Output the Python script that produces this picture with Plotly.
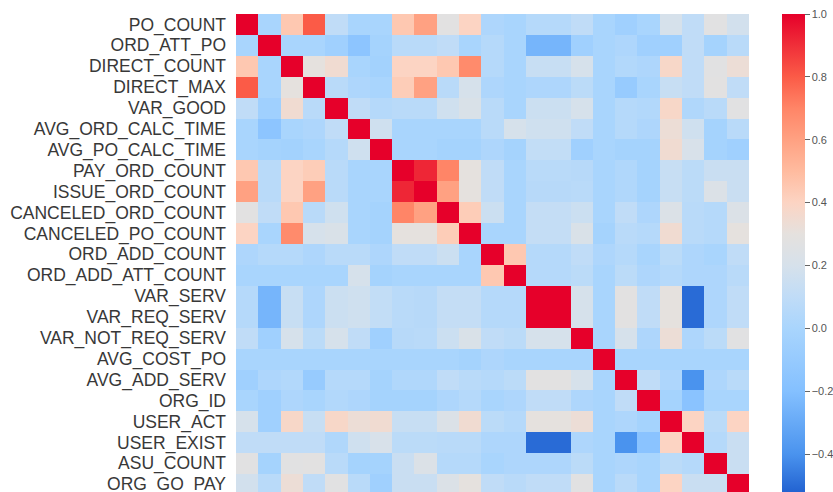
import plotly.graph_objects as go

labels = ["PO_COUNT", "ORD_ATT_PO", "DIRECT_COUNT", "DIRECT_MAX", "VAR_GOOD",
          "AVG_ORD_CALC_TIME", "AVG_PO_CALC_TIME", "PAY_ORD_COUNT", "ISSUE_ORD_COUNT",
          "CANCELED_ORD_COUNT", "CANCELED_PO_COUNT", "ORD_ADD_COUNT", "ORD_ADD_ATT_COUNT",
          "VAR_SERV", "VAR_REQ_SERV", "VAR_NOT_REQ_SERV", "AVG_COST_PO", "AVG_ADD_SERV",
          "ORG_ID", "USER_ACT", "USER_EXIST", "ASU_COUNT", "ORG_GO_PAY"]

corr = [
    # 0     1     2     3     4     5     6     7     8     9    10    11    12    13    14    15    16    17    18    19    20    21    22
    [1.00, 0.00, 0.45, 0.80, 0.10, 0.00, 0.00, 0.45, 0.60, 0.28, 0.40, 0.02, 0.00, 0.05, 0.05, 0.10, 0.00, -0.05, 0.00, 0.20, 0.10, 0.27, 0.18],
    [0.00, 1.00, 0.00, 0.00, -0.05, -0.15, -0.02, 0.07, 0.07, 0.10, 0.00, 0.05, 0.00, -0.25, -0.25, -0.05, 0.00, 0.02, -0.05, -0.05, 0.10, -0.02, 0.07],
    [0.45, 0.00, 1.00, 0.30, 0.35, 0.00, -0.03, 0.40, 0.40, 0.45, 0.68, 0.05, 0.00, 0.13, 0.13, 0.20, 0.00, 0.04, 0.02, 0.38, 0.10, 0.27, 0.33],
    [0.80, 0.00, 0.30, 1.00, 0.07, 0.02, 0.00, 0.43, 0.60, 0.07, 0.20, 0.02, 0.00, 0.02, 0.02, 0.08, 0.00, -0.10, 0.00, 0.13, 0.10, 0.28, 0.10],
    [0.10, -0.05, 0.35, 0.07, 1.00, 0.10, 0.05, 0.07, 0.07, 0.17, 0.22, 0.07, 0.00, 0.15, 0.15, 0.20, 0.00, 0.05, 0.04, 0.38, 0.03, 0.07, 0.27],
    [0.00, -0.15, 0.00, 0.02, 0.10, 1.00, 0.17, 0.00, 0.00, 0.00, 0.00, 0.07, 0.20, 0.17, 0.17, 0.10, 0.00, 0.05, 0.02, 0.33, 0.17, -0.02, 0.07],
    [0.00, -0.02, -0.03, 0.00, 0.05, 0.17, 1.00, 0.00, 0.00, -0.02, -0.02, 0.02, -0.02, 0.11, 0.11, -0.05, 0.00, -0.02, -0.02, 0.35, 0.21, -0.02, -0.05],
    [0.45, 0.07, 0.40, 0.43, 0.07, 0.00, 0.00, 1.00, 0.92, 0.70, 0.30, 0.10, 0.00, 0.07, 0.07, 0.06, 0.00, 0.03, -0.02, 0.13, 0.08, 0.14, 0.14],
    [0.60, 0.07, 0.40, 0.60, 0.07, 0.00, 0.00, 0.92, 1.00, 0.60, 0.30, 0.10, 0.00, 0.06, 0.06, 0.07, 0.00, 0.03, -0.02, 0.13, 0.08, 0.23, 0.14],
    [0.28, 0.10, 0.45, 0.07, 0.17, 0.00, -0.02, 0.70, 0.60, 1.00, 0.43, 0.15, 0.00, 0.12, 0.12, 0.15, 0.00, 0.10, 0.02, 0.23, 0.07, 0.05, 0.23],
    [0.40, 0.00, 0.68, 0.20, 0.22, 0.00, -0.02, 0.30, 0.30, 0.43, 1.00, 0.00, 0.00, 0.12, 0.12, 0.22, -0.02, 0.07, 0.05, 0.35, 0.07, 0.05, 0.30],
    [0.02, 0.05, 0.05, 0.02, 0.07, 0.07, 0.02, 0.10, 0.10, 0.15, 0.00, 1.00, 0.45, 0.05, 0.05, 0.10, 0.02, 0.05, 0.00, 0.08, 0.02, 0.00, 0.10],
    [0.00, 0.00, 0.00, 0.00, 0.00, 0.20, -0.02, 0.00, 0.00, 0.00, 0.00, 0.45, 1.00, 0.05, 0.05, 0.08, 0.00, 0.08, 0.02, 0.05, 0.02, 0.02, 0.07],
    [0.05, -0.25, 0.13, 0.02, 0.15, 0.17, 0.11, 0.07, 0.06, 0.12, 0.12, 0.05, 0.05, 1.00, 1.00, 0.20, 0.00, 0.28, 0.10, 0.30, -0.50, 0.02, 0.10],
    [0.05, -0.25, 0.13, 0.02, 0.15, 0.17, 0.11, 0.07, 0.06, 0.12, 0.12, 0.05, 0.05, 1.00, 1.00, 0.20, 0.00, 0.28, 0.10, 0.30, -0.50, 0.02, 0.10],
    [0.10, -0.05, 0.20, 0.08, 0.20, 0.10, -0.05, 0.06, 0.07, 0.15, 0.22, 0.10, 0.08, 0.20, 0.20, 1.00, 0.00, 0.20, 0.02, 0.33, 0.02, 0.08, 0.27],
    [0.00, 0.00, 0.00, 0.00, 0.00, 0.00, 0.00, 0.00, 0.00, 0.00, -0.02, 0.02, 0.00, 0.00, 0.00, 0.00, 1.00, 0.00, 0.00, 0.00, 0.00, 0.00, 0.00],
    [-0.05, 0.02, 0.04, -0.10, 0.05, 0.05, -0.02, 0.03, 0.03, 0.10, 0.07, 0.05, 0.08, 0.28, 0.28, 0.20, 0.00, 1.00, 0.10, 0.02, -0.40, 0.02, 0.07],
    [0.00, -0.05, 0.02, 0.00, 0.04, 0.02, -0.02, -0.02, -0.02, 0.02, 0.05, 0.00, 0.02, 0.10, 0.10, 0.02, 0.00, 0.10, 1.00, -0.02, -0.17, 0.00, 0.00],
    [0.20, -0.05, 0.38, 0.13, 0.38, 0.33, 0.35, 0.13, 0.13, 0.23, 0.35, 0.08, 0.05, 0.30, 0.30, 0.33, 0.00, 0.02, -0.02, 1.00, 0.40, 0.08, 0.40],
    [0.10, 0.10, 0.10, 0.10, 0.03, 0.17, 0.21, 0.08, 0.08, 0.07, 0.07, 0.02, 0.02, -0.50, -0.50, 0.02, 0.00, -0.40, -0.17, 0.40, 1.00, 0.05, 0.14],
    [0.27, -0.02, 0.27, 0.28, 0.07, -0.02, -0.02, 0.14, 0.23, 0.05, 0.05, 0.00, 0.02, 0.02, 0.02, 0.08, 0.00, 0.02, 0.00, 0.08, 0.05, 1.00, 0.14],
    [0.18, 0.07, 0.33, 0.10, 0.27, 0.07, -0.05, 0.14, 0.14, 0.23, 0.30, 0.10, 0.07, 0.10, 0.10, 0.27, 0.00, 0.07, 0.00, 0.40, 0.14, 0.14, 1.00],
]

zmin, zmax = -0.53, 1.0
stops_v = [-0.53, -0.4, -0.2, 0.0, 0.1, 0.2, 0.3, 0.4, 0.5, 0.6, 0.7, 0.8, 0.9, 1.0]
stops_c = ["#1f5fcf", "#4a93ee", "#84c0ff", "#a9d5fd", "#c0dcf7", "#d6e1eb", "#e5e1de",
           "#fcd4c3", "#ffbb9f", "#ffa182", "#ff8567", "#fb5b47", "#f02f39", "#e6002a"]
colorscale = [[(v - zmin) / (zmax - zmin), c] for v, c in zip(stops_v, stops_c)]

W, H = 833, 492
ml, mr, mt, mb = 236, 84, 14, 0
row_px = 20.9
n = len(labels)
visible_rows = (H - mt - mb) / row_px

fig = go.Figure(go.Heatmap(
    z=corr,
    x=list(range(n)),
    y=list(range(n)),
    zmin=zmin, zmax=zmax,
    colorscale=colorscale,
    xgap=0, ygap=0,
    colorbar=dict(
        thickness=23, thicknessmode="pixels",
        len=481, lenmode="pixels",
        x=(782 - ml) / (W - ml - mr), xanchor="left",
        y=1, yanchor="top",
        xpad=0, ypad=0,
        outlinewidth=0,
        tickvals=[1.0, 0.8, 0.6, 0.4, 0.2, 0.0, -0.2, -0.4],
        ticktext=["1.0", "0.8", "0.6", "0.4", "0.2", "0.0", "\u22120.2", "\u22120.4"],
        ticks="outside", ticklen=5, tickwidth=1, tickcolor="#666",
        ticklabeloverflow="allow",
        tickfont=dict(family="Liberation Sans, Arial", size=11, color="#555"),
    ),
))

fig.update_layout(
    width=W, height=H,
    margin=dict(l=ml, r=mr, t=mt, b=mb, autoexpand=False),
    paper_bgcolor="white", plot_bgcolor="white",
    xaxis=dict(range=[-0.5, n - 0.5], showticklabels=False, showgrid=False,
               zeroline=False, ticks=""),
    yaxis=dict(range=[visible_rows - 0.5, -0.5], tickvals=list(range(n)), ticktext=labels,
               showgrid=False, zeroline=False, ticks="", ticklabelstandoff=9,
               ticklabeloverflow="allow",
               tickfont=dict(family="Liberation Sans, Arial", size=17.5, color="#383838")),
)

fig.write_html("out.html", config={"displayModeBar": False},
               post_script="document.body.style.margin='0';document.body.style.overflow='hidden';")
